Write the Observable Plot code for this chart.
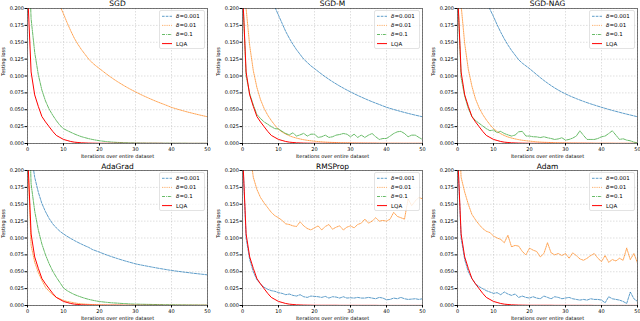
<!DOCTYPE html>
<html><head><meta charset="utf-8">
<script src="https://cdn.jsdelivr.net/npm/d3@7"></script>
<script src="https://cdn.jsdelivr.net/npm/@observablehq/plot@0.6"></script>
<style>
body{margin:0;background:#fff;}
#chart{position:relative;width:640px;height:321px;overflow:hidden;font-family:"DejaVu Sans";}
.panel{position:absolute;}
.legend{position:absolute;}
</style></head><body><div id="chart"></div>
<script>
const epochs = [0,1,2,3,4,5,6,7,8,9,10,11,12,13,14,15,16,17,18,19,20,21,22,23,24,25,26,27,28,29,30,31,32,33,34,35,36,37,38,39,40,41,42,43,44,45,46,47,48,49,50];
const xTicks = [0,10,20,30,40,50];
const yTicks = [0,0.025,0.05,0.075,0.1,0.125,0.15,0.175,0.2];
const panelTitles = ["SGD","SGD-M","SGD-NAG","AdaGrad","RMSProp","Adam"];
const seriesNames = ["0.001","0.01","0.1","LQA"];
const xLabel = "Iterations over entire dataset";
const yLabel = "Testing loss";

const lqa = [0.23,0.106,0.072,0.055,0.04,0.032,0.025,0.018,0.012,0.009,0.006,0.0045,0.003,0.002,0.0015,0.001,0.0008,0.0006,0.0005,0.0004,0.0003,0.0003,0.0003,0.0003,0.0003,0.0003,0.0003,0.0002,0.0002,0.0002,0.0002,0.0002,0.0002,0.0002,0.0002,0.0002,0.0002,0.0002,0.0001,0.0001,0.0001,0.0001,0.0001,0.0001,0.0001,0.0001,0.0001,0.0001,0.0001,0.0001,0.0001];

// SGD
const sgd_d001 = [];
const sgd_d01 = [0.5,0.42,0.37,0.33,0.3,0.275,0.255,0.236,0.219,0.204,0.192,0.179,0.167,0.156,0.147,0.139,0.132,0.125,0.1195,0.115,0.111,0.1068,0.1027,0.0988,0.0951,0.0916,0.0883,0.0851,0.0821,0.0792,0.0765,0.0738,0.0712,0.0688,0.0664,0.0641,0.0619,0.0598,0.0578,0.0557,0.0535,0.0519,0.0503,0.0488,0.0473,0.0459,0.0446,0.0433,0.042,0.0408,0.0396];
const sgd_d1 = [0.32,0.185,0.135,0.102,0.079,0.063,0.051,0.042,0.034,0.027,0.022,0.0192,0.0167,0.0142,0.012,0.0101,0.0086,0.0072,0.006,0.005,0.0041,0.0034,0.0028,0.0023,0.0019,0.0016,0.0014,0.0012,0.001,0.0009,0.0008,0.0007,0.0007,0.0006,0.0006,0.0006,0.0005,0.0005,0.0005,0.0005,0.0004,0.0004,0.0004,0.0004,0.0004,0.0003,0.0003,0.0003,0.0003,0.0003,0.0003];

// SGD-M
const sgdm_d001 = [0.5,0.42,0.37,0.33,0.3,0.274,0.253,0.234,0.217,0.202,0.19,0.178,0.166,0.156,0.147,0.139,0.132,0.125,0.12,0.115,0.111,0.1068,0.1027,0.0988,0.0951,0.0916,0.0883,0.0851,0.0821,0.0792,0.0765,0.0738,0.0712,0.0688,0.0664,0.0641,0.0619,0.0598,0.0578,0.0557,0.0537,0.052,0.0504,0.0489,0.0474,0.046,0.0446,0.0433,0.042,0.0408,0.0396];
const sgdm_d01 = [0.35,0.2,0.145,0.108,0.083,0.065,0.052,0.042,0.034,0.027,0.021,0.017,0.014,0.0115,0.0095,0.008,0.0067,0.0056,0.0047,0.004,0.0034,0.0029,0.0025,0.0021,0.0018,0.0016,0.0014,0.0012,0.0011,0.001,0.0009,0.0008,0.0007,0.0007,0.0006,0.0006,0.0005,0.0005,0.0005,0.0004,0.0004,0.0004,0.0004,0.0004,0.0003,0.0003,0.0003,0.0003,0.0003,0.0003,0.0003];
const sgdm_d1 = [0.23,0.1,0.074,0.057,0.043,0.037,0.032,0.0286,0.025,0.022,0.0215,0.018,0.0148,0.0128,0.0158,0.011,0.0128,0.015,0.011,0.0138,0.0138,0.009,0.01,0.0124,0.009,0.01,0.0124,0.0133,0.0148,0.0138,0.01,0.0138,0.009,0.0124,0.009,0.0124,0.0148,0.01,0.006,0.0074,0.0074,0.011,0.0148,0.0173,0.018,0.0148,0.01,0.0124,0.0124,0.009,0.006];

// SGD-NAG
const nag_d001 = [0.5,0.41,0.36,0.32,0.29,0.266,0.246,0.228,0.212,0.199,0.188,0.176,0.165,0.155,0.146,0.138,0.131,0.124,0.119,0.115,0.111,0.1065,0.102,0.0976,0.0934,0.0895,0.0858,0.0823,0.0791,0.0762,0.0735,0.071,0.0687,0.0665,0.0644,0.0624,0.0605,0.0587,0.057,0.0553,0.0537,0.0521,0.0505,0.049,0.0476,0.0462,0.0448,0.0435,0.0422,0.0409,0.0396];
const nag_d01 = [0.35,0.205,0.148,0.11,0.085,0.066,0.053,0.043,0.035,0.028,0.022,0.0178,0.0145,0.0118,0.0097,0.0081,0.0068,0.0057,0.0048,0.0041,0.0035,0.003,0.0025,0.0021,0.0018,0.0016,0.0014,0.0012,0.0011,0.001,0.0009,0.0008,0.0007,0.0007,0.0006,0.0006,0.0005,0.0005,0.0005,0.0004,0.0004,0.0004,0.0004,0.0004,0.0003,0.0003,0.0003,0.0003,0.0003,0.0003,0.0003];
const nag_d1 = [0.23,0.098,0.07,0.052,0.04,0.034,0.03,0.026,0.022,0.019,0.02,0.016,0.018,0.0148,0.0128,0.011,0.0125,0.0173,0.018,0.011,0.011,0.01,0.0098,0.0088,0.01,0.0085,0.0074,0.006,0.0068,0.0085,0.005,0.006,0.008,0.011,0.0188,0.012,0.006,0.006,0.006,0.0074,0.01,0.011,0.0148,0.0188,0.0124,0.006,0.007,0.005,0.004,0.002,0.001];

// AdaGrad
const ada_d001 = [0.3,0.225,0.19,0.168,0.151,0.139,0.129,0.121,0.115,0.11,0.106,0.1025,0.0993,0.0963,0.0935,0.0909,0.0884,0.0861,0.083,0.081,0.079,0.0769,0.0749,0.073,0.0712,0.0695,0.0678,0.0662,0.0647,0.0632,0.0617,0.0606,0.0595,0.0585,0.0575,0.0565,0.0555,0.0546,0.0537,0.0528,0.0519,0.0512,0.0505,0.0498,0.0491,0.0485,0.0478,0.0472,0.0466,0.046,0.0454];
const ada_d01 = [0.23,0.089,0.064,0.049,0.037,0.027,0.021,0.016,0.012,0.0099,0.0074,0.006,0.005,0.004,0.003,0.0025,0.002,0.0017,0.0014,0.0012,0.001,0.0009,0.0008,0.0007,0.0007,0.0006,0.0006,0.0005,0.0005,0.0005,0.0004,0.0004,0.0004,0.0004,0.0004,0.0003,0.0003,0.0003,0.0003,0.0003,0.0003,0.0003,0.0003,0.0003,0.0003,0.0003,0.0003,0.0003,0.0003,0.0003,0.0003];
const ada_d1 = [0.35,0.18,0.14,0.112,0.091,0.075,0.062,0.051,0.042,0.034,0.026,0.022,0.019,0.0163,0.0142,0.0123,0.0106,0.0091,0.0079,0.0068,0.0059,0.0053,0.0047,0.0042,0.0038,0.0035,0.0031,0.0028,0.0025,0.0022,0.002,0.0019,0.0018,0.0017,0.0016,0.0015,0.0014,0.0013,0.0012,0.0011,0.001,0.001,0.0009,0.0009,0.0008,0.0008,0.0007,0.0007,0.0006,0.0006,0.0005];

// RMSProp
const rms_d001 = [0.23,0.1,0.068,0.05,0.038,0.032,0.027,0.024,0.022,0.021,0.019,0.018,0.016,0.017,0.015,0.014,0.016,0.013,0.012,0.014,0.0135,0.013,0.012,0.0135,0.011,0.013,0.0125,0.011,0.013,0.011,0.0115,0.011,0.012,0.011,0.011,0.012,0.011,0.01,0.012,0.011,0.0085,0.009,0.011,0.01,0.012,0.01,0.009,0.0095,0.01,0.009,0.01];
const rms_d01 = [0.5,0.32,0.23,0.19,0.172,0.16,0.152,0.145,0.138,0.133,0.13,0.126,0.121,0.12,0.118,0.117,0.124,0.118,0.114,0.112,0.115,0.118,0.112,0.117,0.12,0.113,0.116,0.118,0.112,0.116,0.118,0.115,0.12,0.122,0.128,0.122,0.125,0.13,0.125,0.126,0.125,0.128,0.138,0.132,0.13,0.128,0.158,0.148,0.155,0.16,0.158];
const rms_d1 = [];

// Adam
const adam_d001 = [0.23,0.1,0.068,0.05,0.04,0.032,0.028,0.025,0.022,0.02,0.018,0.019,0.016,0.02,0.017,0.015,0.017,0.012,0.014,0.012,0.011,0.013,0.011,0.01,0.014,0.012,0.01,0.013,0.012,0.01,0.011,0.012,0.01,0.009,0.008,0.009,0.008,0.01,0.009,0.009,0.008,0.004,0.013,0.01,0.009,0.008,0.006,0.003,0.02,0.01,0.006];
const adam_d01 = [0.3,0.19,0.168,0.15,0.135,0.127,0.12,0.114,0.11,0.108,0.103,0.1,0.098,0.093,0.104,0.087,0.089,0.088,0.08,0.075,0.085,0.082,0.08,0.072,0.077,0.093,0.078,0.075,0.077,0.074,0.077,0.07,0.078,0.074,0.069,0.067,0.07,0.074,0.077,0.07,0.065,0.074,0.064,0.068,0.066,0.07,0.067,0.085,0.068,0.077,0.063];
const adam_d1 = [];

const panelSeries = [
  [sgd_d001, sgd_d01, sgd_d1, lqa],
  [sgdm_d001, sgdm_d01, sgdm_d1, lqa],
  [nag_d001, nag_d01, nag_d1, lqa],
  [ada_d001, ada_d01, ada_d1, lqa],
  [rms_d001, rms_d01, rms_d1, lqa],
  [adam_d001, adam_d01, adam_d1, lqa]
];

const lineStyles = [
  {stroke: "#1f77b4", dash: "2.6,1.2", width: 0.9},
  {stroke: "#ff7f0e", dash: "0.8,1", width: 0.9},
  {stroke: "#2ca02c", dash: "3,1,0.8,1", width: 0.9},
  {stroke: "#ff0000", dash: null, width: 1}
];

const cols = [{left: 0, width: 212, ml: 27, mr: 5}, {left: 212, width: 215, ml: 30, mr: 5}, {left: 427, width: 213, ml: 30, mr: 3}];
const rowsL = [{top: 0, height: 160, mt: 8, mb: 17}, {top: 160, height: 161, mt: 10, mb: 16}];

const chart = document.getElementById("chart");

panelTitles.forEach((title, p) => {
  const c = cols[p % 3], r = rowsL[Math.floor(p / 3)];
  const marks = [
    Plot.gridX(xTicks, {stroke: "#b0b0b0", strokeOpacity: 0.8, strokeWidth: 0.5, strokeDasharray: "1.5,1.5"}),
    Plot.gridY(yTicks, {stroke: "#b0b0b0", strokeOpacity: 0.8, strokeWidth: 0.5, strokeDasharray: "1.5,1.5"})
  ];
  panelSeries[p].forEach((vals, s) => {
    const data = vals.map((v, i) => ({x: epochs[i], y: v}));
    const st = lineStyles[s];
    marks.push(Plot.line(data, {x: "x", y: "y", stroke: st.stroke, strokeWidth: st.width,
      strokeDasharray: st.dash, strokeOpacity: s === 3 ? 1 : 0.8, clip: true}));
  });
  marks.push(
    Plot.frame({stroke: "#222", strokeWidth: 0.6}),
    Plot.axisX(xTicks, {tickSize: 2.5, tickPadding: 1, fontSize: 5, label: null, tickFormat: d => String(d)}),
    Plot.axisY(yTicks, {tickSize: 2.5, tickPadding: 1, fontSize: 5, label: null, tickFormat: d3.format(".3f")}),
    Plot.text([xLabel], {frameAnchor: "bottom", dy: 13, fontSize: 5, text: d => d, lineAnchor: "middle"}),
    Plot.text([yLabel], {frameAnchor: "left", dx: -24.5, rotate: -90, fontSize: 5, text: d => d, lineAnchor: "middle"}),
    Plot.text([title], {frameAnchor: "top", dy: p < 3 ? -2.5 : -2, fontSize: 7.5, fontWeight: "normal", text: d => d, lineAnchor: "bottom"})
  );
  const svg = Plot.plot({
    width: c.width, height: r.height,
    marginLeft: c.ml, marginRight: c.mr, marginTop: r.mt, marginBottom: r.mb,
    style: {fontFamily: "DejaVu Sans", color: "#000", background: "transparent", overflow: "visible"},
    x: {domain: [0, 50]},
    y: {domain: [0, 0.2]},
    marks
  });
  const div = document.createElement("div");
  div.className = "panel";
  div.style.left = c.left + "px";
  div.style.top = r.top + "px";
  div.appendChild(svg);
  chart.appendChild(div);

  // legend
  const frameRight = c.left + c.width - c.mr;
  const frameTop = r.top + r.mt;
  const lw = 46, lh = 39;
  const lg = d3.create("svg").attr("width", lw).attr("height", lh)
    .attr("class", "legend")
    .style("left", (frameRight - 2 - lw) + "px")
    .style("top", (frameTop + 2) + "px");
  lg.append("rect").attr("x", 0.5).attr("y", 0.5).attr("width", lw - 1).attr("height", lh - 1)
    .attr("rx", 1.5).attr("fill", "#fff").attr("fill-opacity", 0.8).attr("stroke", "#d0d0d0").attr("stroke-width", 0.6);
  seriesNames.forEach((name, s) => {
    const y = 6.3 + s * 9.1;
    const st = lineStyles[s];
    lg.append("line").attr("x1", 3).attr("x2", 13).attr("y1", y).attr("y2", y)
      .attr("stroke", st.stroke).attr("stroke-width", st.width).attr("stroke-dasharray", st.dash)
      .attr("stroke-opacity", s === 3 ? 1 : 0.8);
    const t = lg.append("text").attr("x", 17).attr("y", y).attr("dy", "0.35em")
      .attr("font-family", "DejaVu Sans").attr("font-size", 5.5).attr("fill", "#000");
    if (s < 3) {
      t.append("tspan").attr("font-style", "italic").text("δ");
      t.append("tspan").text("=" + name);
    } else {
      t.text(name);
    }
  });
  chart.appendChild(lg.node());
});
</script></body></html>
